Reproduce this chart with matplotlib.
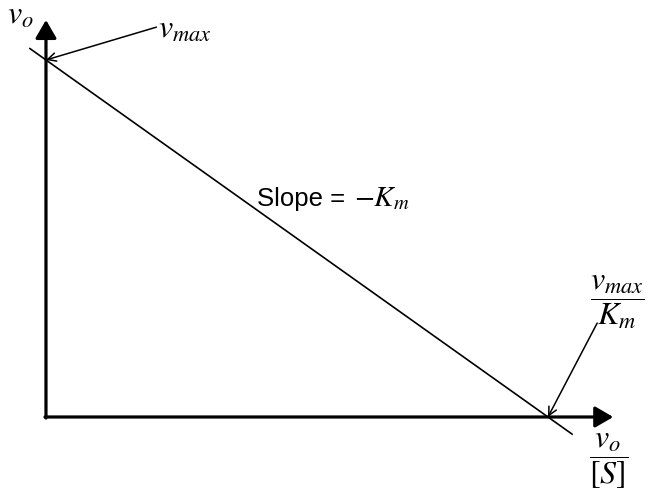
import numpy as np
import matplotlib
matplotlib.use('Agg')
import matplotlib.pyplot as plt

plt.rcParams['mathtext.fontset'] = 'stix'
plt.rcParams['font.family'] = ['Liberation Sans', 'DejaVu Sans']

# Eadie-Hofstee line: v0 = vmax - Km * (v0/[S])
vmax = 10.0
Km = 2.0
x_int = vmax / Km
x_line = np.array([-0.16, 5.24])
y_line = vmax - Km * x_line

fig = plt.figure(figsize=(6.54, 4.93), dpi=100)
ax = fig.add_axes([0, 0, 1, 1])
ax.set_xlim(-0.458, 6.056)
ax.set_ylim(-2.129, 11.68)
ax.axis('off')

# axes with filled arrow heads
axis_arrow = dict(arrowstyle='-|>,head_length=0.55,head_width=0.32', lw=2.3,
                  color='black', shrinkA=0, shrinkB=0, mutation_scale=20)
ax.annotate('', xy=(0, 11.12), xytext=(0, -0.03), arrowprops=axis_arrow)
ax.annotate('', xy=(5.65, 0), xytext=(-0.01, 0), arrowprops=axis_arrow)

ax.plot(x_line, y_line, color='black', lw=1.2)

# pointer arrows to intercepts
ptr = dict(arrowstyle='->,head_length=0.5,head_width=0.25', lw=1.1, color='black',
           shrinkA=0, shrinkB=0, mutation_scale=12)
ax.annotate('', xy=(0, vmax), xytext=(1.10, 10.92), arrowprops=ptr)
ax.annotate('', xy=(x_int, 0), xytext=(5.49, 2.63), arrowprops=ptr)

ax.text(-0.39, 11.25, r'$v_o$', fontsize=23, ha='left', va='center')
ax.text(1.12, 10.85, r'$v_{max}$', fontsize=23, ha='left', va='center')
ax.text(5.69, 3.2, r'$\dfrac{v_{max}}{K_m}$', fontsize=23, ha='center', va='center')
ax.text(5.6, -1.25, r'$\dfrac{v_o}{[S]}$', fontsize=23, ha='center', va='center')

# slope label: plain text plus larger math part, sharing a baseline
ax.text(2.10, 5.92, 'Slope =', fontsize=18.5, ha='left', va='baseline')
ax.text(3.07, 5.92, r'$-K_m$', fontsize=21, ha='left', va='baseline')

fig.savefig('out.png', dpi=100)
